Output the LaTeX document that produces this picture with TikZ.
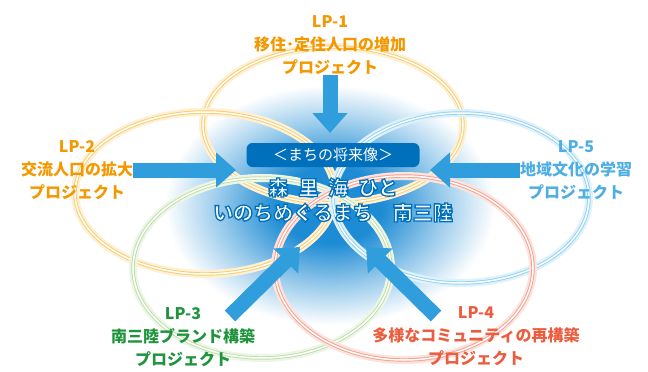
\documentclass[tikz,border=0pt]{standalone}
\usepackage{fontspec}
\usetikzlibrary{arrows.meta}
\newfontfamily\jpfont{Noto Sans CJK JP}
\definecolor{lporange}{RGB}{243,152,0}
\definecolor{ringorange}{RGB}{247,188,60}
\definecolor{lpgreen}{RGB}{30,148,60}
\definecolor{ringgreen}{RGB}{170,212,140}
\definecolor{lpred}{RGB}{236,92,62}
\definecolor{ringred}{RGB}{242,128,104}
\definecolor{lpblue}{RGB}{78,174,226}
\definecolor{ringblue}{RGB}{110,196,238}
\definecolor{arrowblue}{RGB}{48,158,220}
\definecolor{boxblue}{RGB}{0,112,188}
\definecolor{glowblue}{RGB}{30,140,212}
\pgfdeclareradialshading{centreglow}{\pgfpoint{0bp}{0bp}}{color(0bp)=(glowblue);
    color(8bp)=(glowblue); color(17bp)=(glowblue!45!white); color(25bp)=(white); color(50bp)=(white)}
% white letters with a blue rim
\newcommand\rimtext[1]{\special{pdf:literal direct 2 Tr 1.3 w 0 0.44 0.74 RG}#1\special{pdf:literal direct 0 Tr}}
\tikzset{
    ring/.style = {draw=#1!75, line width=3.4pt,
                   preaction={draw=#1!22, line width=8pt},
                   postaction={draw=white, line width=1.5pt}},
    lplabel/.style = {align=center, inner sep=0pt, text=#1,
                      font=\jpfont\bfseries\fontsize{16}{23}\selectfont},
    push/.style = {draw=arrowblue, line width=15pt, -{Triangle[length=20pt, width=34pt]}},
    visionbox/.style = {rounded corners=6pt, fill=boxblue, text=white, minimum width=173pt,
                        minimum height=24pt, inner sep=0pt, font=\jpfont\fontsize{15}{18}\selectfont},
    motto/.style = {align=center, inner sep=0pt, text=white,
                    font=\jpfont\bfseries\fontsize{20}{25}\selectfont}
}

\begin{document}
\begin{tikzpicture}[x=1pt, y=-1pt]
    \useasboundingbox (0,0) rectangle (648,372);
    % glow behind the vision
    \shade[shading=centreglow] (330,205) ellipse [x radius=165, y radius=120];

    % the five rings
    \draw[ring=ringorange] (333,125) ellipse [x radius=130, y radius=78];
    \draw[ring=ringorange] (205,193) ellipse [x radius=130, y radius=81];
    \draw[ring=ringblue] (461,198) ellipse [x radius=128, y radius=85];
    \draw[ring=ringgreen] (262,268) ellipse [x radius=129, y radius=90];
    \draw[ring=ringred] (404,268) ellipse [x radius=129, y radius=92];

    % centre
    \node (vision) [visionbox] at (333,155) {＜まちの将来像＞};
    \node (motto) [motto] at (333,200) {\rimtext{森\hspace{.5em}里\hspace{.5em}海\hspace{.5em}ひと}\\\rimtext{いのちめぐるまち　南三陸}};

    % projects
    \node (lp1) [lplabel=lporange] at (330,45) {LP-1\\移住･定住人口の増加\\プロジェクト};
    \node (lp2) [lplabel=lporange] at (77,170) {LP-2\\交流人口の拡大\\プロジェクト};
    \node (lp5) [lplabel=lpblue] at (576,170) {LP-5\\地域文化の学習\\プロジェクト};
    \node (lp3) [lplabel=lpgreen] at (183,337) {LP-3\\南三陸ブランド構築\\プロジェクト};
    \node (lp4) [lplabel=lpred] at (476,336) {LP-4\\多様なコミュニティの再構築\\プロジェクト};

    \coordinate (in1) at (330,133);
    \coordinate (in2) at (236,170);
    \coordinate (in5) at (430,170);
    \coordinate (in3) at (300,247);
    \coordinate (in4) at (366,247);
    \coordinate (out3) at (230,316);
    \coordinate (out4) at (436,316);

    \draw[push] (lp1.south) -- (in1);
    \draw[push] (lp2.east) -- (in2);
    \draw[push] (lp5.west) -- (in5);
    \draw[push] (out3) -- (in3);
    \draw[push] (out4) -- (in4);
\end{tikzpicture}
\end{document}
